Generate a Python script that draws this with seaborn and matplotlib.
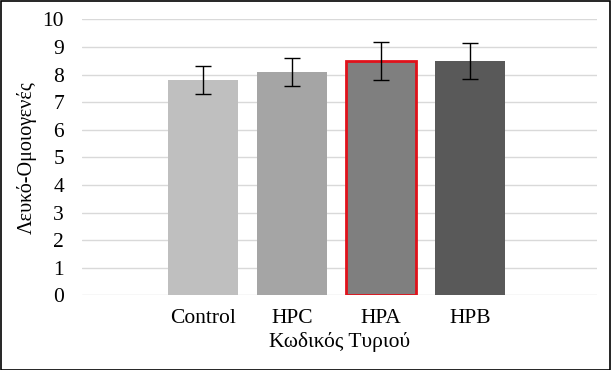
import matplotlib
matplotlib.use("Agg")
import matplotlib.pyplot as plt
import seaborn as sns
import pandas as pd
from matplotlib.patches import Rectangle

categories = ["Control", "HPC", "HPA", "HPB"]
values = [7.80, 8.10, 8.49, 8.49]
errors = [0.52, 0.51, 0.70, 0.66]
colors = ["#BFBFBF", "#A5A5A5", "#7F7F7F", "#595959"]
yticks = list(range(0, 11))

sns.set_theme(style="white")
plt.rcParams['font.family'] = ['Liberation Serif', 'DejaVu Serif']

df = pd.DataFrame({"cat": categories, "val": values})

fig = plt.figure(figsize=(6.11, 3.70), dpi=100)
ax = fig.add_axes([82/611, 1 - 295.3/370, (597-82)/611, 276/370])

sns.barplot(data=df, x="cat", y="val", hue="cat", palette=colors, legend=False,
            width=0.79, ax=ax, errorbar=None, saturation=1)
ax.errorbar(range(len(categories)), values, yerr=errors, fmt="none",
            ecolor="black", elinewidth=1.0, capsize=6, capthick=1.0, zorder=5)

# red outline on HPA
for i, p in enumerate(ax.patches):
    p.set_linewidth(0)
    if categories[i] == "HPA":
        p.set_edgecolor("#E0121B")
        p.set_linewidth(2.0)

ax.set_ylim(0, 10)
ax.set_xlim(-1.36, 4.43)
ax.set_yticks(yticks)
ax.yaxis.grid(True, color="#D9D9D9", linewidth=1.0)
ax.set_axisbelow(True)
for s in ax.spines.values():
    s.set_visible(False)
ax.tick_params(axis="both", length=0, labelsize=15.5, colors="black")
ax.tick_params(axis="y", pad=13)
ax.tick_params(axis="x", pad=10)
ax.set_xlabel("Κωδικός Τυριού", fontsize=15.5, color="black", labelpad=3)
ax.set_ylabel("Λευκό-Ομοιογενές", fontsize=14.5, color="black", labelpad=4)

fig.patches.append(Rectangle((0.5/611, 0.5/370), 1 - 1.5/611, 1 - 1.5/370,
                             transform=fig.transFigure, fill=False,
                             edgecolor="black", linewidth=1.2))
fig.savefig("out.png", dpi=100)
